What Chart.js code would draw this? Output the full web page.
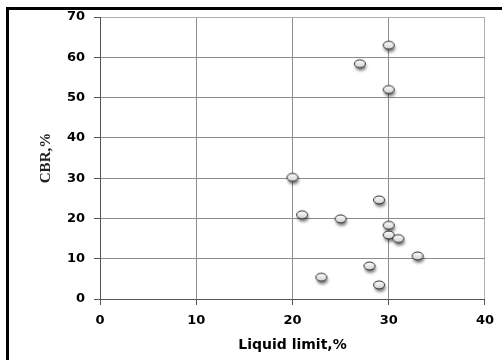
<!DOCTYPE html>
<html>
<head>
<meta charset="utf-8">
<script src="https://cdn.jsdelivr.net/npm/chart.js@4/dist/chart.umd.min.js"></script>
<style>
  html, body { margin: 0; padding: 0; background: #fff; }
  #wrap { width: 502px; height: 360px; position: relative; }
</style>
</head>
<body>
<div id="wrap"><canvas id="c" width="502" height="360"></canvas></div>
<script>
// Liquid limit (%) and CBR (%) for each soil sample
const liquidLimit = [30, 27, 30, 20, 29, 21, 25, 30, 30, 31, 33, 28, 23, 29];
const cbr         = [63, 58.4, 52, 30.2, 24.6, 20.9, 19.9, 18.3, 15.9, 15, 10.7, 8.2, 5.4, 3.5];

const xTicks = [0, 10, 20, 30, 40];
const yTicks = [0, 10, 20, 30, 40, 50, 60, 70];

const xTitle = 'Liquid limit,%';
const yTitle = 'CBR,%';

// Small grey ellipse marker with a soft drop shadow
function makeMarker() {
  const c = document.createElement('canvas');
  c.width = 20; c.height = 20;
  const g = c.getContext('2d');
  g.save();
  g.shadowColor = 'rgba(0,0,0,0.5)';
  g.shadowBlur = 3;
  g.shadowOffsetX = 1;
  g.shadowOffsetY = 3;
  const grad = g.createLinearGradient(0, 6, 0, 14);
  grad.addColorStop(0, '#ffffff');
  grad.addColorStop(1, '#d0d0d0');
  g.beginPath();
  g.ellipse(10, 10, 5.5, 4, 0, 0, Math.PI * 2);
  g.fillStyle = grad;
  g.fill();
  g.restore();
  g.beginPath();
  g.ellipse(10, 10, 5.5, 4, 0, 0, Math.PI * 2);
  g.lineWidth = 1;
  g.strokeStyle = '#2a2a2a';
  g.stroke();
  return c;
}

const points = liquidLimit.map((x, i) => ({ x: x, y: cbr[i] }));

// Black frame along the top and left edges
const framePlugin = {
  id: 'frame',
  afterDraw(chart) {
    const ctx = chart.ctx;
    ctx.save();
    ctx.fillStyle = '#000';
    ctx.fillRect(6, 7, 496, 3);
    ctx.fillRect(6, 7, 3, 353);
    ctx.restore();
  }
};

function gridColor(ctx, max) {
  const v = ctx.tick ? ctx.tick.value : null;
  if (v === 0) return '#555';
  if (v === max) return '#b0b0b0';
  return '#8c8c8c';
}

const tickFont = { family: '"DejaVu Sans", sans-serif', size: 13, weight: 'bold' };

new Chart(document.getElementById('c'), {
  type: 'scatter',
  data: {
    datasets: [{
      data: points,
      pointStyle: makeMarker(),
      pointRadius: 6,
      pointHoverRadius: 6
    }]
  },
  plugins: [framePlugin],
  options: {
    responsive: false,
    animation: false,
    events: [],
    layout: { padding: { top: 17, right: 16, left: 0, bottom: 0 } },
    plugins: { legend: { display: false }, tooltip: { enabled: false } },
    scales: {
      x: {
        type: 'linear',
        min: 0, max: 40,
        afterBuildTicks(scale) { scale.ticks = xTicks.map(v => ({ value: v })); },
        afterFit(scale) { scale.height = 61; },
        ticks: { color: '#000', font: tickFont, padding: 8, maxRotation: 0 },
        grid: {
          color: c => gridColor(c, 40),
          tickColor: '#555',
          tickLength: 6,
          lineWidth: 1
        },
        border: { color: '#555', width: 1 },
        title: {
          display: true,
          text: xTitle,
          color: '#000',
          font: { family: '"DejaVu Sans", sans-serif', size: 14, weight: 'bold' },
          padding: { top: 0, bottom: 6.6 }
        }
      },
      y: {
        type: 'linear',
        min: 0, max: 70,
        afterBuildTicks(scale) { scale.ticks = yTicks.map(v => ({ value: v })); },
        afterFit(scale) { scale.width = 100; },
        ticks: { color: '#000', font: tickFont, padding: 9 },
        grid: {
          color: c => gridColor(c, 70),
          tickColor: '#555',
          tickLength: 6,
          lineWidth: 1
        },
        border: { color: '#555', width: 1 },
        title: {
          display: true,
          text: yTitle,
          color: '#222',
          font: { family: '"Liberation Serif", serif', size: 15, weight: 'bold' },
          padding: { top: 37, bottom: 0 }
        }
      }
    }
  }
});
</script>
</body>
</html>
